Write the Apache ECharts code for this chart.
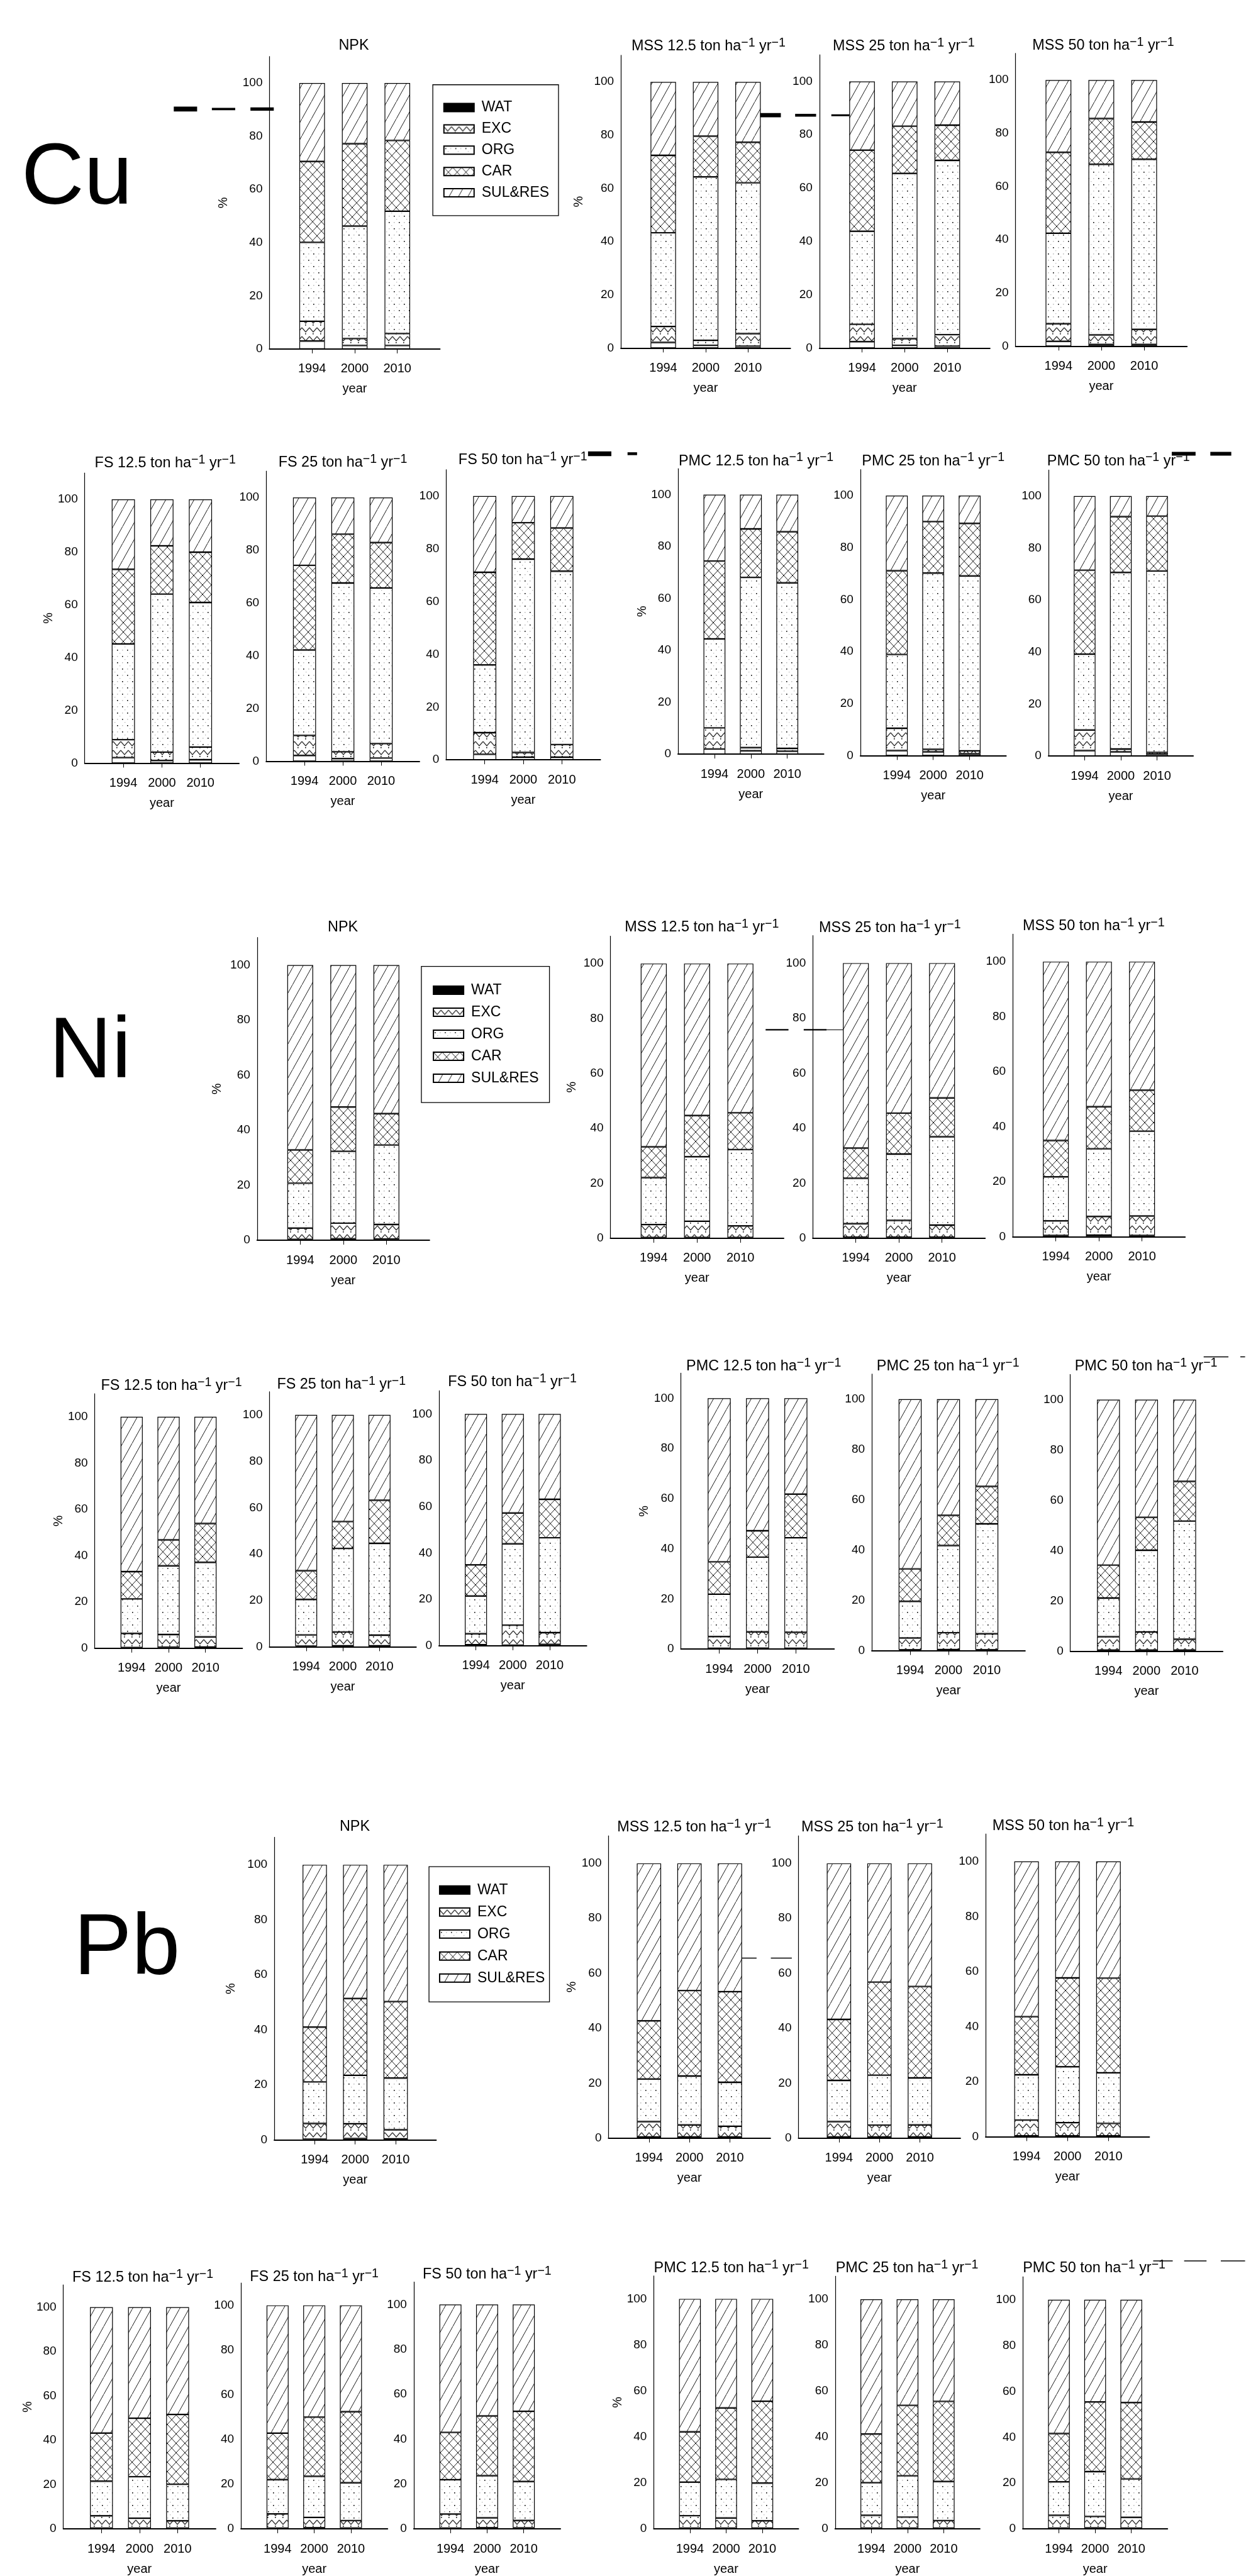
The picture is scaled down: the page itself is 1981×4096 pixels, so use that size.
<!DOCTYPE html>
<html><head><meta charset="utf-8">
<script src="https://cdn.jsdelivr.net/npm/echarts@6/dist/echarts.min.js"></script>
<style>html,body{margin:0;padding:0;background:#fff}#c{width:1981px;height:4096px}</style>
</head><body><div id="c"></div>
<script>
// ---------------- DATA ----------------
const years = ['1994', '2000', '2010'];
const fractions = ['WAT', 'EXC', 'ORG', 'CAR', 'SUL&RES'];
const yTicks = [0, 20, 40, 60, 80, 100];
// each row = one year (1994, 2000, 2010): [WAT, EXC, ORG, CAR, SUL&RES] in %
const Cu_NPK     = [[3.0,7.4,29.7,30.4,29.5],[1.3,2.6,42.3,31.0,22.8],[1.3,4.5,46.0,26.6,21.6]];
const Cu_MSS12_5 = [[2.1,6.0,35.2,29.1,27.6],[1.0,1.9,61.4,15.3,20.4],[0.7,4.7,56.7,15.2,22.7]];
const Cu_MSS25   = [[2.4,6.5,34.9,30.4,25.8],[1.0,2.5,62.0,17.7,16.8],[0.7,4.3,65.4,13.2,16.4]];
const Cu_MSS50   = [[1.8,6.6,34.0,30.4,27.2],[0.6,3.6,64.1,17.2,14.5],[0.6,5.7,63.9,14.0,15.8]];
const Cu_FS12_5  = [[2.1,6.8,36.3,28.3,26.5],[1.0,3.2,59.9,18.3,17.6],[1.3,4.8,54.8,19.1,20.0]];
const Cu_FS25    = [[2.2,7.6,32.4,32.1,25.7],[1.0,2.6,64.0,18.5,13.9],[1.2,5.5,59.0,17.2,17.1]];
const Cu_FS50    = [[2.1,8.2,25.7,35.1,28.9],[1.0,1.8,73.3,13.8,10.1],[1.0,4.8,65.7,16.4,12.1]];
const Cu_PMC12_5 = [[2.0,8.1,34.3,30.0,25.6],[1.3,1.2,65.6,18.7,13.2],[1.1,1.1,63.8,19.7,14.3]];
const Cu_PMC25   = [[1.9,8.6,28.4,32.2,28.9],[1.4,1.0,67.8,19.8,10.0],[0.7,1.1,67.3,20.2,10.7]];
const Cu_PMC50   = [[2.1,7.9,29.2,32.3,28.5],[1.6,1.1,67.9,21.5,7.9],[0.7,0.7,69.8,21.1,7.7]];

const Ni_NPK     = [[0.3,4.1,16.3,12.1,67.2],[0.5,5.7,26.1,16.1,51.6],[0.4,5.3,28.9,11.4,54.0]];
const Ni_MSS12_5 = [[0.3,4.7,17.1,11.2,66.7],[0.3,5.9,23.5,15.0,55.3],[0.3,4.2,27.8,13.4,54.3]];
const Ni_MSS25   = [[0.4,4.9,16.5,11.0,67.2],[0.4,6.1,24.1,14.9,54.5],[0.4,4.4,32.1,14.1,49.0]];
const Ni_MSS50   = [[0.5,5.3,16.0,13.2,65.0],[0.6,6.8,24.6,15.3,52.7],[0.5,7.1,30.8,14.9,46.7]];
const Ni_FS12_5  = [[0.3,6.1,14.9,11.8,66.9],[0.4,5.5,29.7,11.2,53.2],[0.5,4.4,32.2,16.8,46.1]];
const Ni_FS25    = [[0.3,4.8,15.3,12.4,67.2],[0.4,6.0,36.0,11.6,46.0],[0.4,4.6,39.6,18.6,36.8]];
const Ni_FS50    = [[0.5,4.7,16.3,13.4,65.1],[0.3,8.6,35.1,13.3,42.7],[0.6,5.1,40.9,16.6,36.8]];
const Ni_PMC12_5 = [[0.3,4.7,16.9,12.9,65.2],[0.4,6.5,29.8,10.5,52.8],[0.3,6.4,37.7,17.4,38.2]];
const Ni_PMC25   = [[0.3,4.7,14.6,12.9,67.5],[0.4,6.7,34.7,12.0,46.2],[0.3,6.4,43.7,14.9,34.7]];
const Ni_PMC50   = [[0.4,5.3,15.4,13.1,65.8],[0.4,7.2,32.5,13.1,46.8],[0.4,4.3,47.0,15.8,32.5]];

const Pb_NPK     = [[0.3,5.7,15.1,19.9,59.0],[0.5,5.4,17.6,27.9,48.6],[0.4,3.3,18.8,27.8,49.7]];
const Pb_MSS12_5 = [[0.4,5.6,15.5,21.2,57.3],[0.4,4.4,17.8,31.1,46.3],[0.4,3.9,16.0,33.0,46.7]];
const Pb_MSS25   = [[0.4,5.6,15.0,22.2,56.8],[0.4,4.3,18.2,33.9,43.2],[0.4,4.4,17.1,33.3,44.8]];
const Pb_MSS50   = [[0.3,5.7,16.5,21.1,56.4],[0.3,4.8,20.3,32.3,42.3],[0.3,4.5,18.4,34.4,42.4]];
const Pb_FS12_5  = [[0.3,5.6,15.6,21.7,56.8],[0.3,4.5,18.7,26.4,50.1],[0.3,3.3,16.5,31.5,48.4]];
const Pb_FS25    = [[0.3,6.4,15.3,20.8,57.2],[0.5,4.6,18.4,26.5,50.0],[0.4,3.3,16.9,31.8,47.6]];
const Pb_FS50    = [[0.3,6.3,15.3,21.1,57.0],[0.5,4.4,18.8,26.6,49.7],[0.4,3.3,17.4,31.3,47.6]];
const Pb_PMC12_5 = [[0.3,5.4,14.6,21.9,57.8],[0.3,4.4,16.8,31.1,47.4],[0.3,3.2,16.4,35.6,44.5]];
const Pb_PMC25   = [[0.3,5.6,14.2,21.2,58.7],[0.3,4.8,18.0,30.7,46.2],[0.3,3.3,17.0,34.9,44.5]];
const Pb_PMC50   = [[0.3,5.6,14.6,21.1,58.4],[0.4,5.0,19.6,30.4,44.6],[0.3,4.7,16.8,33.3,44.9]];

// ---------------- LAYOUT (reference pixel units, scaled by S) ----------------
const S = 0.757;
// ax: y-axis x, y0: value-0 y, y100: value-100 y, band: category step, tx/ty: title centre, pct: "%" x
const panels = [
 {d:Cu_NPK,     t:['NPK'],        ax:566,  y0:733,  y100:174.5, band:89.5, tx:743,  ty:96,   pct:470},
 {d:Cu_MSS12_5, t:['MSS','12.5'], ax:1304, y0:731,  y100:172,   band:89,   tx:1488, ty:97,   pct:1216},
 {d:Cu_MSS25,   t:['MSS','25'],   ax:1721, y0:731,  y100:171,   band:89.5, tx:1898, ty:97},
 {d:Cu_MSS50,   t:['MSS','50'],   ax:2133, y0:727,  y100:168,   band:90,   tx:2317, ty:95},
 {d:Cu_FS12_5,  t:['FS','12.5'],  ax:178,  y0:1603, y100:1049,  band:81,   tx:347,  ty:973,  pct:103},
 {d:Cu_FS25,    t:['FS','25'],    ax:559,  y0:1599, y100:1045,  band:80.5, tx:720,  ty:971},
 {d:Cu_FS50,    t:['FS','50'],    ax:937,  y0:1596, y100:1042,  band:81,   tx:1098, ty:966},
 {d:Cu_PMC12_5, t:['PMC','12.5'], ax:1424, y0:1584, y100:1039,  band:76.5, tx:1588, ty:968,  pct:1351},
 {d:Cu_PMC25,   t:['PMC','25'],   ax:1807, y0:1587, y100:1041,  band:76.5, tx:1960, ty:968},
 {d:Cu_PMC50,   t:['PMC','50'],   ax:2202, y0:1588, y100:1042,  band:76,   tx:2349, ty:968},

 {d:Ni_NPK,     t:['NPK'],        ax:540,  y0:2605, y100:2027,  band:90.5, tx:720,  ty:1947, pct:456},
 {d:Ni_MSS12_5, t:['MSS','12.5'], ax:1282, y0:2601, y100:2024,  band:91,   tx:1474, ty:1948, pct:1202},
 {d:Ni_MSS25,   t:['MSS','25'],   ax:1707, y0:2601, y100:2023,  band:90.5, tx:1869, ty:1949},
 {d:Ni_MSS50,   t:['MSS','50'],   ax:2127, y0:2598, y100:2020,  band:90.5, tx:2297, ty:1945},
 {d:Ni_FS12_5,  t:['FS','12.5'],  ax:199,  y0:3462, y100:2976,  band:77.5, tx:360,  ty:2910, pct:124},
 {d:Ni_FS25,    t:['FS','25'],    ax:566,  y0:3459, y100:2972,  band:77,   tx:717,  ty:2908},
 {d:Ni_FS50,    t:['FS','50'],    ax:922,  y0:3457, y100:2970,  band:77.5, tx:1076, ty:2903},
 {d:Ni_PMC12_5, t:['PMC','12.5'], ax:1430, y0:3464, y100:2937,  band:80.5, tx:1604, ty:2870, pct:1353},
 {d:Ni_PMC25,   t:['PMC','25'],   ax:1831, y0:3467, y100:2939,  band:80.5, tx:1991, ty:2870},
 {d:Ni_PMC50,   t:['PMC','50'],   ax:2248, y0:3468, y100:2940,  band:80,   tx:2407, ty:2870},

 {d:Pb_NPK,     t:['NPK'],        ax:576,  y0:4495, y100:3917,  band:85,   tx:745,  ty:3836, pct:485},
 {d:Pb_MSS12_5, t:['MSS','12.5'], ax:1278, y0:4491, y100:3914,  band:85,   tx:1458, ty:3838, pct:1202},
 {d:Pb_MSS25,   t:['MSS','25'],   ax:1677, y0:4491, y100:3914,  band:85,   tx:1832, ty:3838},
 {d:Pb_MSS50,   t:['MSS','50'],   ax:2070, y0:4488, y100:3910,  band:86,   tx:2233, ty:3835},
 {d:Pb_FS12_5,  t:['FS','12.5'],  ax:133,  y0:5322, y100:4847,  band:80,   tx:300,  ty:4784, pct:60},
 {d:Pb_FS25,    t:['FS','25'],    ax:506,  y0:5319, y100:4843,  band:77,   tx:660,  ty:4782},
 {d:Pb_FS50,    t:['FS','50'],    ax:869,  y0:5317, y100:4841,  band:77,   tx:1023, ty:4777},
 {d:Pb_PMC12_5, t:['PMC','12.5'], ax:1373, y0:5314, y100:4829,  band:76,   tx:1536, ty:4764, pct:1304},
 {d:Pb_PMC25,   t:['PMC','25'],   ax:1754, y0:5317, y100:4830,  band:76,   tx:1905, ty:4764},
 {d:Pb_PMC50,   t:['PMC','50'],   ax:2148, y0:5317, y100:4831,  band:76,   tx:2298, ty:4764}
];
const elementLabels = [
 {text:'Cu', x:45,  y:378},
 {text:'Ni', x:103, y:2213},
 {text:'Pb', x:155, y:4096}
];
const legends = [
 {left:931, top:226, pitch:44.75, box:[909,178,264,275]},
 {left:909, top:2080, pitch:46.25, box:[885,2030,269,286]},
 {left:922, top:3970, pitch:46.25, box:[901,3921,253,284]}
];
// stray dashes in the scanned figure: [x1, x2, y, thickness]
const dashes = [
 [365,414,229,10],[445,494,229,5],[526,575,229,7],
 [1594,1640,242,9],[1670,1714,242,6],[1746,1792,242,4],
 [1235,1284,953,10],[1318,1338,953,6],
 [2461,2511,953,8],[2542,2586,953,8],
 [1608,1656,2163,3],[1688,1736,2163,3],[1736,1815,2163,1],
 [2528,2580,2850,2],[2605,2615,2850,2],
 [1543,1589,4113,2],[1619,1663,4113,2],
 [2422,2463,4749,2],[2487,2534,4749,2],[2564,2615,4749,2]
];

// ---------------- FONT PICK ----------------
const mctx = document.createElement('canvas').getContext('2d');
function hasFont(f) {
  const s = 'abcdefghijklmnopqrstuvwxyz0123456789WM';
  return ['monospace', 'serif'].some(fb => {
    mctx.font = '40px ' + fb; const b = mctx.measureText(s).width;
    mctx.font = "40px '" + f + "', " + fb; return Math.abs(mctx.measureText(s).width - b) > 0.5;
  });
}
const cand = ['Liberation Sans Narrow', 'Arial Narrow', 'Nimbus Sans Narrow', 'Liberation Sans', 'Arial'];
const picked = cand.find(hasFont);
const FONT = picked ? "'" + picked + "', sans-serif" : 'sans-serif';
const NARROW = !!picked && /Narrow/.test(picked);
function w(text, size) { mctx.font = size + 'px ' + FONT; return mctx.measureText(text).width; }
const FS_YT = NARROW ? 20 : 19;
const FS_XT = NARROW ? 21 : 20;
const FS_NAME = NARROW ? 21 : 20;
const FS_LEG = NARROW ? 24 : 23;
const FS_T = 24.5, FS_SUP = 20.5;
const titleW = w('MSS 12.5 ton ha', FS_T) + w(' yr', FS_T) + 2 * w('\u22121', FS_SUP);
const T_SCALE = Math.max(0.8, Math.min(1.1, 245 / titleW));

// ---------------- PATTERNS ----------------
function tile(wd, ht, draw) {
  const c = document.createElement('canvas');
  c.width = wd; c.height = ht;
  const g = c.getContext('2d');
  g.fillStyle = '#fff'; g.fillRect(0, 0, wd, ht);
  draw(g);
  return {image: c, repeat: 'repeat'};
}
const fills = [
  '#ffffff',
  tile(12, 14, g => { // EXC zigzag
    g.strokeStyle = '#333'; g.lineWidth = 1.3;
    g.beginPath(); g.moveTo(0, 3); g.lineTo(6, 10); g.lineTo(12, 3); g.stroke();
    g.fillStyle = '#000'; g.fillRect(5, 12, 1.6, 1.6);
  }),
  tile(16, 20, g => { // ORG dots
    g.fillStyle = '#000';
    g.fillRect(2, 3, 1.6, 1.6); g.fillRect(10, 13, 1.6, 1.6);
    g.fillStyle = '#b5b5b5';
    g.fillRect(10, 3, 1.5, 1.5); g.fillRect(2, 13, 1.5, 1.5);
    g.fillRect(6, 8, 1.3, 1.3); g.fillRect(14, 18, 1.3, 1.3);
  }),
  tile(14, 15, g => { // CAR crosshatch
    g.strokeStyle = '#000'; g.lineWidth = 0.9;
    g.beginPath(); g.moveTo(-1, -1.07); g.lineTo(15, 16.07);
    g.moveTo(15, -1.07); g.lineTo(-1, 16.07); g.stroke();
  }),
  tile(15, 27, g => { // SUL&RES diagonal
    g.strokeStyle = '#000'; g.lineWidth = 0.9;
    g.beginPath(); g.moveTo(-1, 28.8); g.lineTo(16, -1.8); g.stroke();
  })
];

// ---------------- BUILD ----------------
const grids = [], xAxes = [], yAxes = [], series = [], graphics = [];
const axisCats = ['', ...years, ' '];
function titleText(t) {
  return t.length === 1 ? t[0] : t[0] + ' ' + t[1] + ' ton ha{s|\u22121} yr{s|\u22121}';
}
panels.forEach((p, i) => {
  const h = (p.y0 - p.y100) * 1.1;
  grids.push({left: p.ax * S, top: (p.y0 - h) * S, width: 4 * p.band * S, height: h * S});
  xAxes.push({
    gridIndex: i, type: 'category', data: axisCats, boundaryGap: false,
    axisLine: {lineStyle: {color: '#000', width: 2}},
    axisTick: {interval: k => k >= 1 && k <= 3, length: 7, lineStyle: {color: '#000', width: 1}},
    axisLabel: {interval: 0, color: '#000', fontSize: FS_XT, fontFamily: FONT, margin: 22},
    name: 'year', nameLocation: 'middle', nameGap: 54,
    nameTextStyle: {color: '#000', fontSize: FS_NAME, fontFamily: FONT}
  });
  yAxes.push({
    gridIndex: i, type: 'value', min: 0, max: 110, interval: 20,
    axisLine: {show: true, lineStyle: {color: '#000', width: 1.2}},
    axisTick: {show: false}, splitLine: {show: false},
    axisLabel: {color: '#000', fontSize: FS_YT, fontFamily: FONT, margin: 11,
      formatter: v => (yTicks.indexOf(v) >= 0 ? String(v) : '')},
    name: p.pct ? '%' : '', nameLocation: 'middle',
    nameGap: p.pct ? (p.ax - p.pct) * S - 10 : 0,
    nameTextStyle: {color: '#000', fontSize: 20, fontFamily: FONT}
  });
  fractions.forEach((f, k) => {
    series.push({
      type: 'bar', name: f, xAxisIndex: i, yAxisIndex: i, stack: 'st' + i,
      barWidth: 0.6 * p.band * S,
      data: [null, ...p.d.map(r => r[k]), null],
      itemStyle: {color: fills[k], borderColor: '#000', borderWidth: 1.2},
      emphasis: {disabled: true}, silent: true
    });
  });
  graphics.push({
    type: 'text', x: p.tx * S, y: p.ty * S, scaleX: T_SCALE, silent: true,
    style: {
      text: titleText(p.t), fill: '#000', fontSize: FS_T, fontFamily: FONT,
      align: 'center', verticalAlign: 'middle', textAlign: 'center', textVerticalAlign: 'middle',
      rich: {s: {fontSize: FS_SUP, fontFamily: FONT, fill: '#000', padding: [0, 0, 10, 0]}}
    }
  });
});
elementLabels.forEach(e => graphics.push({
  type: 'text', x: e.x * S, y: e.y * S, silent: true,
  style: {text: e.text, fill: '#000', fontSize: 138, fontFamily: "'Liberation Sans',Arial,sans-serif",
    align: 'left', verticalAlign: 'middle', textAlign: 'left', textVerticalAlign: 'middle'}
}));
legends.forEach(l => graphics.push({
  type: 'rect', silent: true,
  shape: {x: l.box[0] * S, y: l.box[1] * S, width: l.box[2] * S, height: l.box[3] * S},
  style: {fill: 'none', stroke: '#000', lineWidth: 1.3}
}));
dashes.forEach(d => graphics.push({
  type: 'rect', silent: true,
  shape: {x: d[0] * S, y: (d[2] - d[3] / 2) * S, width: (d[1] - d[0]) * S, height: Math.max(1, d[3] * S)},
  style: {fill: '#000'}
}));

const legendOpts = legends.map(l => ({
  orient: 'vertical', left: l.left * S, top: l.top * S - 13, padding: 0,
  itemWidth: 48, itemHeight: 13, itemGap: l.pitch * S - 26, icon: 'rect', selectedMode: false,
  textStyle: {fontSize: FS_LEG, fontFamily: FONT, color: '#000', lineHeight: 26, padding: [0, 0, 0, 7]},
  data: [{name: 'WAT', itemStyle: {color: '#000'}}, 'EXC', 'ORG', 'CAR', 'SUL&RES']
}));

const chart = echarts.init(document.getElementById('c'), null, {renderer: 'canvas', width: 1981, height: 4096});
chart.setOption({
  animation: false,
  backgroundColor: '#fff',
  tooltip: {show: false},
  legend: legendOpts,
  grid: grids, xAxis: xAxes, yAxis: yAxes, series: series,
  graphic: graphics
});
</script>
</body></html>
